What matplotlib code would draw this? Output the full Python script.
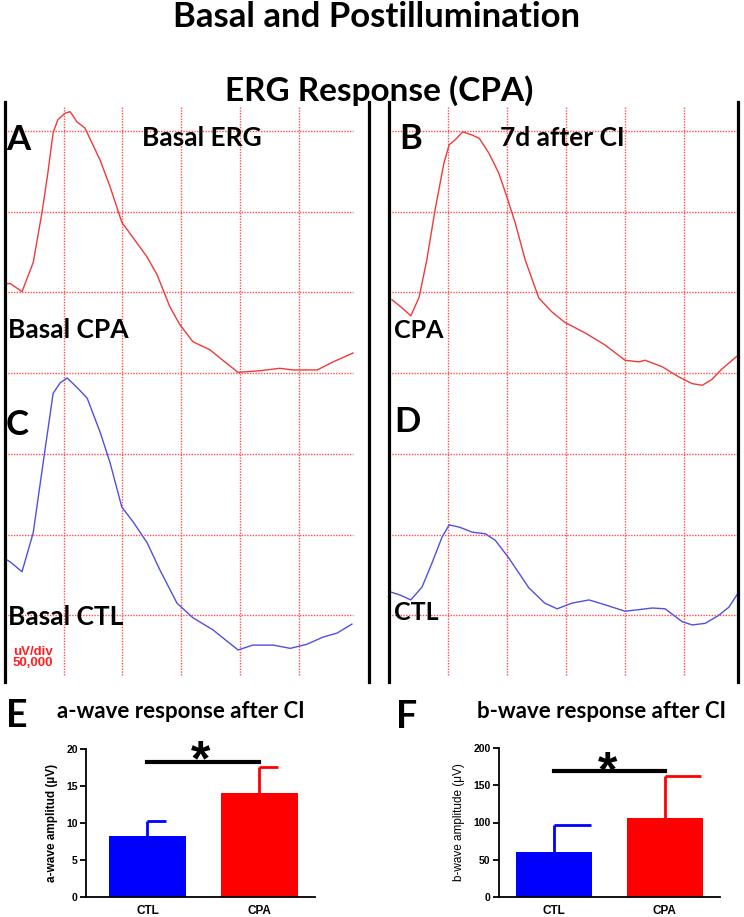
import matplotlib
matplotlib.use('Agg')
import matplotlib.pyplot as plt
import numpy as np

W, H = 744, 917

# ERG traces
# x = time in grid divisions, y = divisions above the bottom of the sheet
basal_cpa_t = [0.03, 0.09, 0.29, 0.48, 0.63, 0.73, 0.82, 0.90, 1.02, 1.11, 1.23, 1.36, 1.62,
               1.79, 1.99, 2.18, 2.42, 2.59, 2.81, 2.98, 3.20, 3.49, 3.71, 3.97, 4.34, 4.68,
               4.91, 5.32, 5.59, 5.93]
basal_cpa_v = [5.11, 5.11, 5.01, 5.37, 5.99, 6.48, 6.98, 7.14, 7.22, 7.24, 7.11, 7.04, 6.64,
               6.31, 5.87, 5.68, 5.44, 5.22, 4.82, 4.60, 4.39, 4.29, 4.16, 4.01, 4.03, 4.06,
               4.04, 4.04, 4.14, 4.25]

basal_ctl_t = [0.00, 0.09, 0.29, 0.48, 0.65, 0.82, 0.94, 1.06, 1.23, 1.40, 1.62, 1.79, 1.99,
               2.18, 2.42, 2.64, 2.93, 3.20, 3.54, 3.97, 4.22, 4.57, 4.86, 5.14, 5.42, 5.66, 5.91]
basal_ctl_v = [1.70, 1.66, 1.54, 2.02, 2.89, 3.75, 3.88, 3.94, 3.82, 3.69, 3.27, 2.89, 2.34,
               2.16, 1.90, 1.56, 1.15, 0.97, 0.82, 0.57, 0.63, 0.63, 0.59, 0.64, 0.73, 0.78, 0.89]

ci_cpa_t = [0.05, 0.22, 0.37, 0.51, 0.64, 0.78, 0.93, 1.02, 1.12, 1.25, 1.41, 1.53, 1.69, 1.86,
            2.00, 2.14, 2.31, 2.54, 2.76, 2.98, 3.32, 3.66, 4.00, 4.24, 4.34, 4.63, 4.92, 5.14,
            5.31, 5.47, 5.64, 5.93]
ci_cpa_v = [4.91, 4.81, 4.71, 4.94, 5.40, 6.02, 6.60, 6.83, 6.89, 6.99, 6.95, 6.91, 6.73, 6.48,
            6.18, 5.86, 5.40, 4.93, 4.76, 4.63, 4.50, 4.35, 4.16, 4.14, 4.16, 4.08, 3.95, 3.87,
            3.85, 3.92, 4.05, 4.23]

ci_ctl_t = [0.02, 0.19, 0.37, 0.56, 0.73, 0.90, 1.02, 1.20, 1.41, 1.63, 1.80, 2.03, 2.37, 2.64,
            2.85, 3.10, 3.39, 3.66, 4.00, 4.24, 4.46, 4.68, 4.97, 5.14, 5.36, 5.59, 5.76, 5.93]
ci_ctl_v = [1.29, 1.25, 1.19, 1.35, 1.65, 1.97, 2.12, 2.09, 2.03, 2.01, 1.93, 1.71, 1.34, 1.15,
            1.08, 1.15, 1.19, 1.13, 1.05, 1.07, 1.09, 1.08, 0.92, 0.88, 0.90, 1.00, 1.10, 1.29]

# amplitudes after CI
groups = ['CTL', 'CPA']
awave_mean = [8.2, 14.1]
awave_sem = [2.1, 3.5]
bwave_mean = [60.5, 106.5]
bwave_sem = [36.5, 56.0]

grid_red = '#ff4d4d'
trace_red = '#ee3a3a'
trace_blue = '#5050e0'
bar_colors = ['#0000ff', '#ff0000']

fig = plt.figure(figsize=(W / 100, H / 100), dpi=100)


def px_ax(l, t, r, b):
    return fig.add_axes([l / W, 1 - b / H, (r - l) / W, (b - t) / H])


def ftxt(x, y, s, **kw):
    kw.setdefault('va', 'center')
    kw.setdefault('ha', 'left')
    return fig.text(x / W, 1 - y / H, s, **kw)


def erg_panel(l, r, px_div, hgrid_end):
    ax = px_ax(l, 102, r, 682)
    ax.set_xlim(0, (r - l) / px_div)
    ax.set_ylim(0.173, 7.36)
    for s in ['top', 'bottom']:
        ax.spines[s].set_visible(False)
    for s in ['left', 'right']:
        ax.spines[s].set_linewidth(2.3)
    ax.set_xticks([])
    ax.set_yticks([])
    ax.patch.set_alpha(0)
    ax.hlines(range(1, 8), 0, hgrid_end, colors=grid_red, linestyles=(0, (1, 1)), lw=1)
    ax.vlines(range(1, 6), 0.26, 7.3, colors=grid_red, linestyles=(0, (1, 1)), lw=1)
    return ax


axL = erg_panel(5, 369, 58.7, 5.93)
axL.plot(basal_cpa_t, basal_cpa_v, color=trace_red, lw=1)
axL.plot(basal_ctl_t, basal_ctl_v, color=trace_blue, lw=1)

axR = erg_panel(389, 738, 59.0, 5.95)
axR.plot(ci_cpa_t, ci_cpa_v, color=trace_red, lw=1)
axR.plot(ci_ctl_t, ci_ctl_v, color=trace_blue, lw=1)

# titles and labels
head = dict(family='Lato', weight='bold')
ftxt(377, 17, 'Basal and Postillumination', ha='center', fontsize=25, **head)
ftxt(379, 91, 'ERG Response (CPA)', ha='center', fontsize=24, **head)

ftxt(6, 140, 'A', fontsize=25, **head)
ftxt(399, 139, 'B', fontsize=25, **head)
ftxt(6, 425, 'C', fontsize=25, **head)
ftxt(394, 422, 'D', fontsize=25, **head)
ftxt(6, 716, 'E', fontsize=27, **head)
ftxt(396, 717, 'F', fontsize=27, **head)

ftxt(142, 138, 'Basal ERG', fontsize=19, **head)
ftxt(500, 138, '7d after CI', fontsize=19, **head)
ftxt(8, 330, 'Basal CPA', fontsize=19, **head)
ftxt(394, 331, 'CPA', fontsize=18, **head)
ftxt(8, 617, 'Basal CTL', fontsize=19, **head)
ftxt(394, 613, 'CTL', fontsize=18, **head)
ftxt(13, 652, 'uV/div', fontsize=9.5, color='#ff2020', family='Liberation Sans', weight='bold')
ftxt(13, 663, '50,000', fontsize=9.5, color='#ff2020', family='Liberation Sans', weight='bold')

ftxt(57, 712, 'a-wave response after CI', fontsize=16, **head)
ftxt(477, 712, 'b-wave response after CI', fontsize=16, **head)


def bar_panel(l, t, r, b, mean, sem, ymax, xleft, cap, sig_y, star_y):
    ax = px_ax(l, t, r, b)
    x = np.arange(len(groups))
    ax.bar(x, mean, width=0.69, color=bar_colors)
    top = np.add(mean, sem)
    ax.vlines(x, mean, top, colors=bar_colors, lw=2)
    ax.hlines(top, x, x + cap, colors=bar_colors, lw=2)
    ax.plot([0, 1], [sig_y, sig_y], color='black', lw=3, clip_on=False)
    ax.text(0.48, star_y, '*', ha='center', va='baseline', fontsize=36, weight='bold',
            family='Liberation Sans', clip_on=False)
    ax.set_xlim(xleft, 1.5)
    ax.set_ylim(0, ymax)
    ax.set_yticks(np.linspace(0, ymax, 5))
    ax.set_xticks(x)
    ax.set_xticklabels(groups, fontsize=8.5, family='Liberation Sans', weight='bold')
    ax.tick_params(axis='x', length=0, pad=6)
    ax.tick_params(axis='y', length=4, width=1.3, labelsize=7.5, pad=2)
    for lab in ax.get_yticklabels():
        lab.set_fontweight('bold')
        lab.set_family('Liberation Sans')
    for s in ['top', 'right']:
        ax.spines[s].set_visible(False)
    for s in ['left', 'bottom']:
        ax.spines[s].set_linewidth(1.3)
    return ax


axE = bar_panel(86, 749, 315, 897, awave_mean, awave_sem, 20, -0.55, 0.17, 18.3, 16.4)
axE.set_ylabel('a-wave amplitud (µV)', fontsize=8.5, family='Liberation Sans',
               weight='bold', labelpad=6)

axF = bar_panel(499, 748, 720, 897, bwave_mean, bwave_sem, 200, -0.5, 0.33, 169, 149)
axF.set_ylabel('b-wave amplitude (μV)', fontsize=8.5, family='Liberation Sans', labelpad=6)

fig.savefig('out.png', dpi=100)
